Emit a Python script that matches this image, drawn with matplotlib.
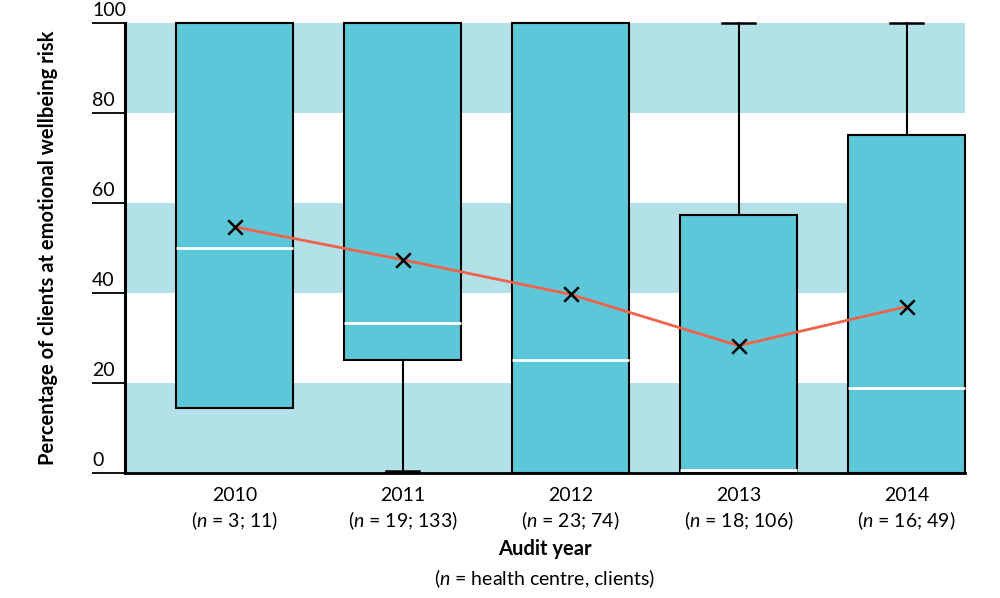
import matplotlib.pyplot as plt

plt.rcParams['font.family'] = ['Lato', 'DejaVu Sans']
plt.rcParams['mathtext.fontset'] = 'custom'
plt.rcParams['mathtext.rm'] = 'Lato'
plt.rcParams['mathtext.it'] = 'Lato:italic'

years = ['2010', '2011', '2012', '2013', '2014']
n_labels = ['3; 11', '19; 133', '23; 74', '18; 106', '16; 49']
whislo = [14.4, 0.5, 0, 0, 0]
q1 = [14.4, 25.2, 0, 0, 0]
med = [50.0, 33.4, 25.1, 0.6, 18.8]
q3 = [100, 100, 100, 57.3, 75.1]
whishi = [100, 100, 100, 100, 100]
means = [54.7, 47.4, 39.7, 28.3, 37.0]
yticks = [0, 20, 40, 60, 80, 100]

box_col = '#5bc7d9'
band_col = '#b3e1e8'
line_col = '#f0624a'

fig = plt.figure(figsize=(10, 5.98), dpi=100)
ax = fig.add_axes([0.125, 0.209, 0.84, 0.7525])

# background bands
for lo in [0, 40, 80]:
    ax.axhspan(lo, lo + 20, color=band_col, lw=0, zorder=0)

stats = []
for i in range(len(years)):
    stats.append({'whislo': whislo[i], 'q1': q1[i], 'med': med[i],
                  'q3': q3[i], 'whishi': whishi[i], 'fliers': []})

pos = list(range(len(years)))
bp = ax.bxp(stats, positions=pos, widths=0.7, capwidths=0.2,
            patch_artist=True, showfliers=False,
            boxprops=dict(facecolor=box_col, edgecolor='black', lw=1.5),
            medianprops=dict(color='white', lw=2),
            whiskerprops=dict(color='black', lw=1.5),
            capprops=dict(color='black', lw=1.8))
for art in bp['caps'] + bp['whiskers'] + bp['boxes'] + bp['medians']:
    art.set_clip_on(False)
    art.set_zorder(2)

# no whisker / cap where it sits on the box edge
for i in range(len(years)):
    if whislo[i] == q1[i]:
        bp['caps'][2 * i].set_visible(False)
        bp['whiskers'][2 * i].set_visible(False)
    if whishi[i] == q3[i]:
        bp['caps'][2 * i + 1].set_visible(False)
        bp['whiskers'][2 * i + 1].set_visible(False)

ax.plot(pos, means, color=line_col, lw=2, zorder=3)
ax.scatter(pos, means, marker='x', color='black', s=110, lw=1.8, zorder=4)

ax.set_xlim(-0.652, 4.348)
ax.set_ylim(0, 100)

ax.set_xticks(pos)
ax.set_xticklabels([y + '\n($\\mathit{n}$ = ' + n + ')' for y, n in zip(years, n_labels)],
                   fontsize=14, linespacing=1.3)
ax.tick_params(axis='x', length=0, pad=10)

ax.set_yticks(yticks)
ax.set_yticklabels([])
ax.tick_params(axis='y', direction='out', length=24, width=1.3)
for t in yticks:
    ax.text(-0.039, t + 1.0, str(t), transform=ax.get_yaxis_transform(),
            ha='left', va='bottom', fontsize=14)

for s in ['top', 'right']:
    ax.spines[s].set_visible(False)
ax.spines['left'].set_linewidth(2.2)
ax.spines['bottom'].set_linewidth(2)

ax.set_ylabel('Percentage of clients at emotional wellbeing risk',
              fontsize=14.5, fontweight='bold', labelpad=21)
fig.text(0.545, 0.082, 'Audit year', ha='center', va='center',
         fontsize=14.5, fontweight='bold')
fig.text(0.545, 0.033, '($\\mathit{n}$ = health centre, clients)', ha='center',
         va='center', fontsize=14)

fig.savefig('out.png', dpi=100)
